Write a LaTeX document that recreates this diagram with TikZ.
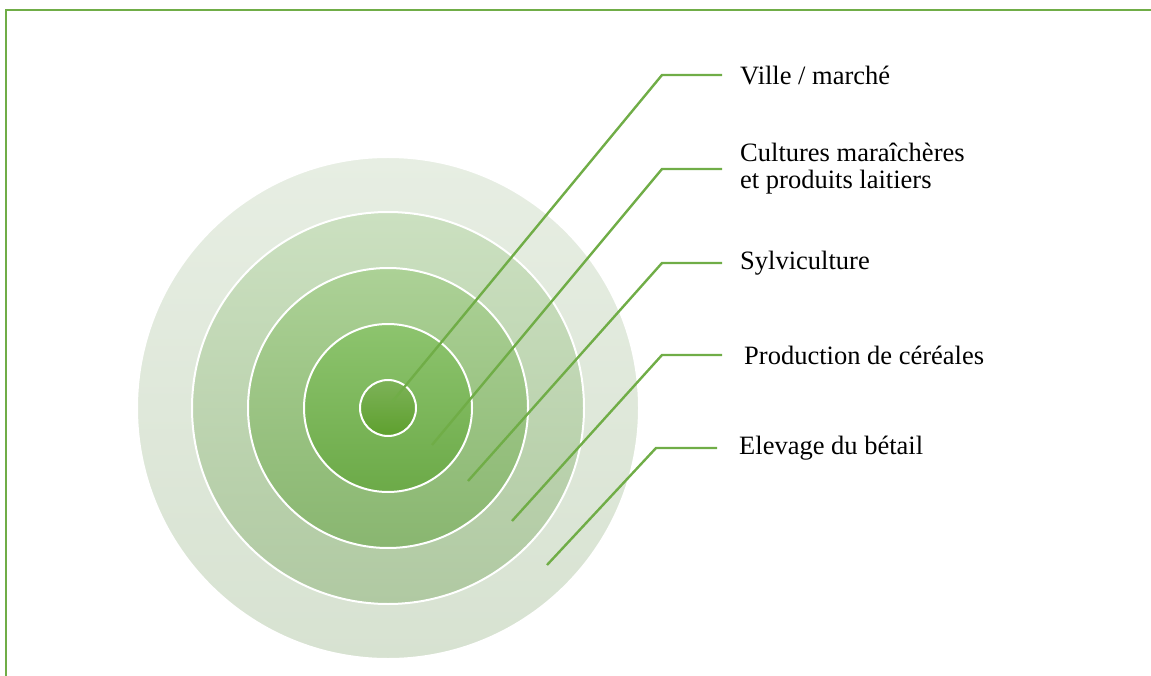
\documentclass[tikz,border=0pt]{standalone}
\usepackage{fontspec}
\setmainfont{Liberation Serif}
\begin{document}
\begin{tikzpicture}[x=1pt,y=-1pt,
    ring/.style={draw=white, line width=2pt},
    leader/.style={draw=linegreen, line width=2.4pt},
    zonelabel/.style={anchor=west, inner xsep=18pt, inner ysep=0pt, align=left,
        font=\fontsize{26.5}{27}\selectfont}]
    % Define colors
    \definecolor{linegreen}{RGB}{112,173,71}
    \definecolor{ringfivetop}{RGB}{231,238,227}
    \definecolor{ringfivebot}{RGB}{215,226,209}
    \definecolor{ringfourtop}{RGB}{203,224,192}
    \definecolor{ringfourbot}{RGB}{176,201,162}
    \definecolor{ringthreetop}{RGB}{172,209,150}
    \definecolor{ringthreebot}{RGB}{137,182,112}
    \definecolor{ringtwotop}{RGB}{141,196,110}
    \definecolor{ringtwobot}{RGB}{108,170,72}
    \definecolor{ringonetop}{RGB}{125,178,88}
    \definecolor{ringonebot}{RGB}{94,160,46}

    \useasboundingbox (0,0) rectangle (1151,676);

    % Frame
    \draw[linegreen, line width=2.2pt] (6,676) -- (6,10) -- (1151,10);

    % Concentric zones
    \path[ring, top color=ringfivetop, bottom color=ringfivebot] (388,408) circle (251);
    \path[ring, top color=ringfourtop, bottom color=ringfourbot] (388,408) circle (196);
    \path[ring, top color=ringthreetop, bottom color=ringthreebot] (388,408) circle (140);
    \path[ring, top color=ringtwotop, bottom color=ringtwobot] (388,408) circle (84);
    \path[ring, top color=ringonetop, bottom color=ringonebot] (388,408) circle (28);

    % Labels
    \node[zonelabel] (ville) at (722,75) {Ville / marché};
    \node[zonelabel] (cultures) at (722,169) {Cultures maraîchères\\et produits laitiers};
    \node[zonelabel] (sylvi) at (722,263) {Sylviculture};
    \node[zonelabel] (cereales) at (722,355) {\hspace{4pt}Production de céréales};
    \node[zonelabel, inner xsep=22pt] (betail) at (717,448) {Elevage du bétail};

    % Leader lines
    \coordinate (inner1) at (392,402);
    \coordinate (inner2) at (432,445);
    \coordinate (inner3) at (468,481);
    \coordinate (inner4) at (512,521);
    \coordinate (inner5) at (547,565);
    \draw[leader] (inner1) -- (662,75) -- (ville.west);
    \draw[leader] (inner2) -- (662,169) -- (cultures.west);
    \draw[leader] (inner3) -- (662,263) -- (sylvi.west);
    \draw[leader] (inner4) -- (662,355) -- (cereales.west);
    \draw[leader] (inner5) -- (656,448) -- (betail.west);

\end{tikzpicture}
\end{document}
